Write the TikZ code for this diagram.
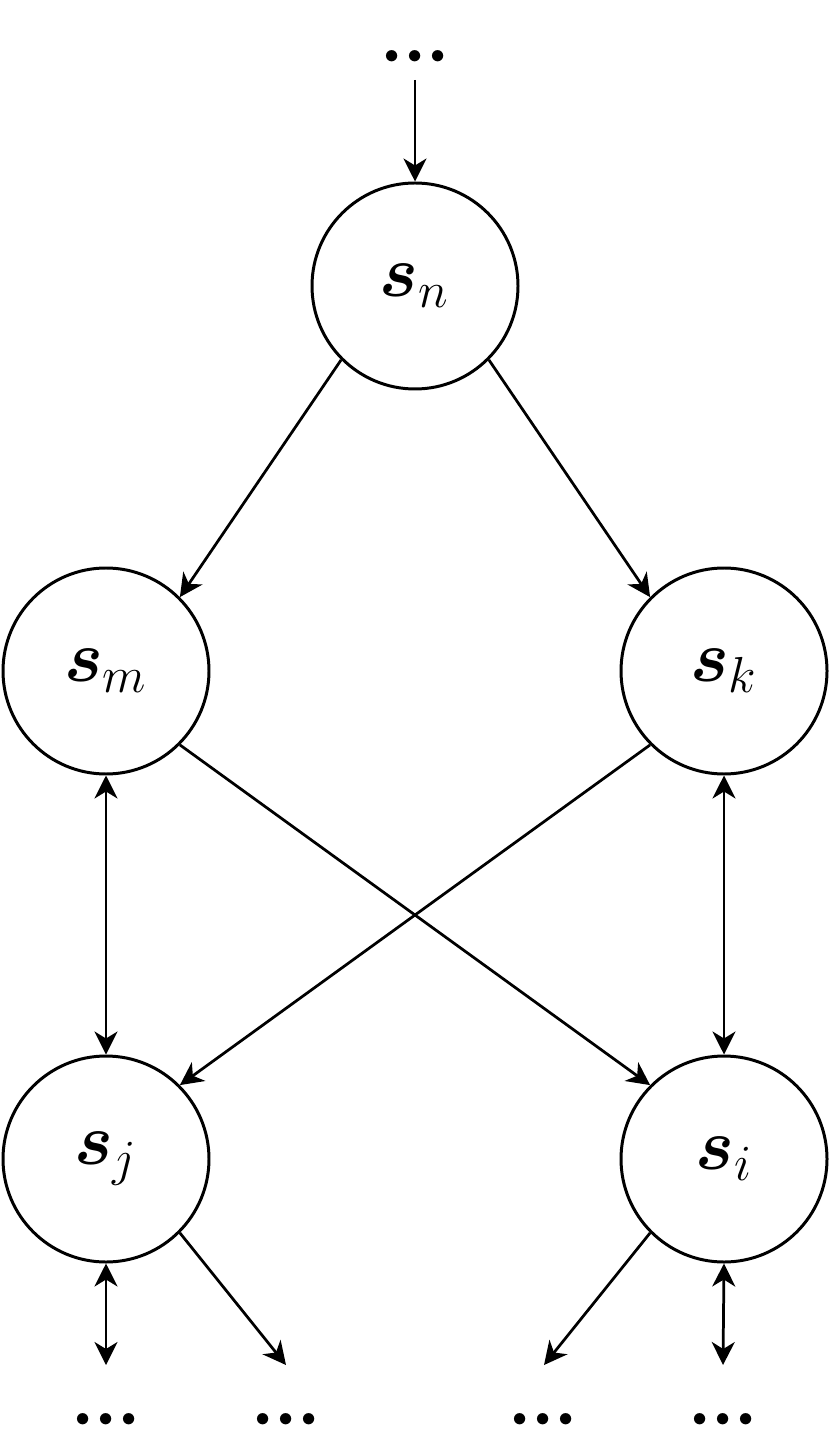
\documentclass[tikz,border=0pt]{standalone}
\usepackage{amsmath,amssymb}
\usepackage{tikz}
\usetikzlibrary{shapes,arrows,positioning,calc,arrows.meta}

\newcommand{\moredots}{\boldsymbol{\cdotp\!\cdotp\!\cdotp}}

\begin{document}
\begin{tikzpicture}[
    state/.style={draw, circle, line width=0.85pt, minimum size=2.06cm, inner sep=0pt, font=\huge},
    more/.style={font=\huge, inner sep=0pt},
    link/.style={-{Stealth[length=2.3mm,width=2.3mm,inset=0.7mm]}, line width=0.78pt},
    twoway/.style={{Stealth[length=2.3mm,width=2.3mm,inset=0.7mm]}-{Stealth[length=2.3mm,width=2.3mm,inset=0.7mm]}, line width=0.78pt}
]
    \useasboundingbox (0,0) rectangle (8.31,-14.53);

    % States
    \node[state] (sn) at (4.15,-2.86) {$\boldsymbol{s}_n$};
    \node[state] (sm) at (1.06,-6.71) {$\boldsymbol{s}_m$};
    \node[state] (sk) at (7.24,-6.71) {$\boldsymbol{s}_k$};
    \node[state] (sj) at (1.06,-11.59) {$\boldsymbol{s}_j$};
    \node[state] (si) at (7.24,-11.59) {$\boldsymbol{s}_i$};

    % Continuations
    \node[more] (top) at (4.15,-0.57) {$\moredots$};
    \node[more] (dj1) at (1.06,-14.20) {$\moredots$};
    \node[more] (dj2) at (2.86,-14.20) {$\moredots$};
    \node[more] (di1) at (5.43,-14.20) {$\moredots$};
    \node[more] (di2) at (7.23,-14.20) {$\moredots$};

    \coordinate (in) at (4.15,-0.80);
    \coordinate (ej1) at (1.06,-13.65);
    \coordinate (ej2) at (2.86,-13.65);
    \coordinate (ei1) at (5.44,-13.65);
    \coordinate (ei2) at (7.23,-13.65);

    % Transitions
    \draw[link] (in) -- (sn.north);
    \draw[link] (sn.south west) -- (sm.north east);
    \draw[link] (sn.south east) -- (sk.north west);
    \draw[link] (sm.south east) -- (si.north west);
    \draw[link] (sk.south west) -- (sj.north east);
    \draw[twoway] (sm.south) -- (sj.north);
    \draw[twoway] (sk.south) -- (si.north);
    \draw[twoway] (sj.south) -- (ej1);
    \draw[link] (sj.south east) -- (ej2);
    \draw[link] (si.south west) -- (ei1);
    \draw[twoway] (si.south) -- (ei2);
\end{tikzpicture}
\end{document}
